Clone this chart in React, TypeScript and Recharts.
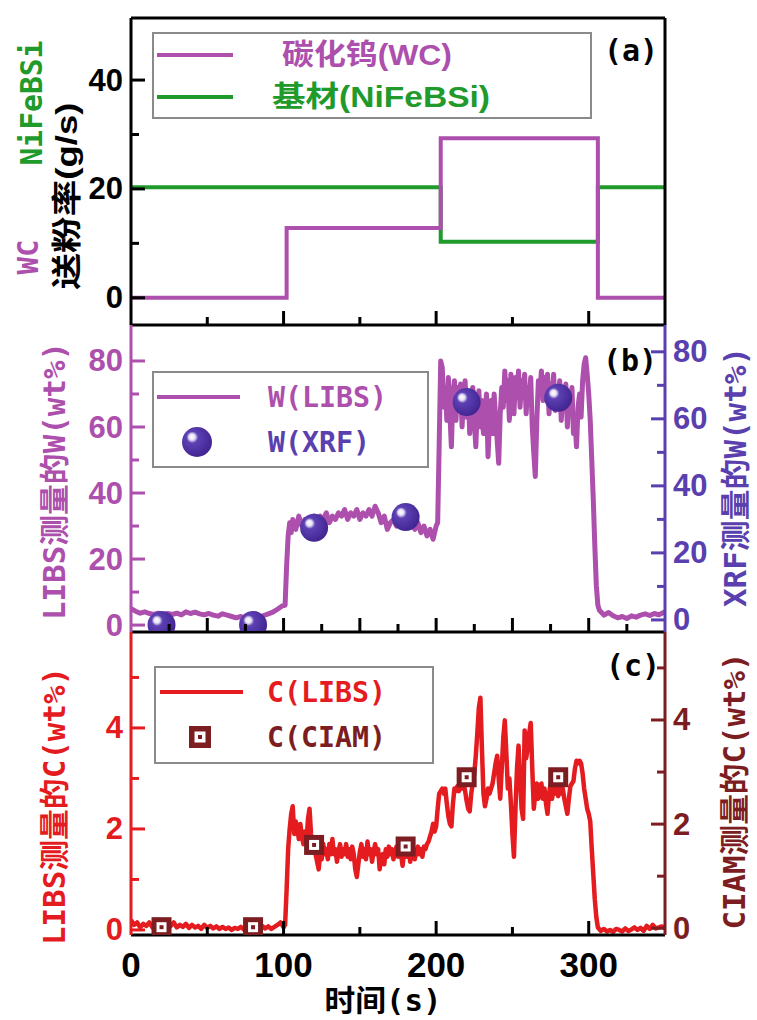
import React from 'react';
import { ComposedChart, Line, Scatter, XAxis, YAxis } from 'recharts';

// ---------- data ----------
// (a) powder feed rate (g/s)
const feedTime = [0, 102, 203, 306, 350];
const feedWC = [0, 12.8, 29.3, 0, 0];
const feedNiFeBSi = [20.3, 20.3, 10.3, 20.3, 20.3];

// (b) W content (wt%) measured by LIBS [time, value]
const wLibs: [number, number][] = [
  [0, 5], [3, 4.2], [6, 3.6], [9, 4], [12, 3.5], [15, 3.2], [18, 3.6], [21, 3.1], [24, 3.5], [27, 3.2],
  [30, 3.6], [33, 3.1], [36, 4], [39, 3.5], [42, 3.9], [45, 3.4], [48, 3.1], [51, 3.5], [54, 3], [57, 2.7],
  [60, 3.4], [63, 3], [66, 2.6], [69, 2.2], [72, 2.6], [75, 2.1], [78, 2.2], [81, 2.5], [84, 2.1], [87, 2.9],
  [90, 3.4], [93, 3.9], [96, 4.8], [99, 5.8],
  [101, 6], [102, 18], [103, 27], [104, 31], [105, 28], [106, 32], [108, 29], [110, 33], [112, 30], [114, 32],
  [116, 29], [118, 31], [120, 33], [122, 31], [124, 33], [126, 32], [128, 34], [130, 31], [132, 33], [134, 32],
  [136, 34], [138, 33], [140, 35], [142, 32], [144, 34], [146, 33], [148, 35], [150, 32], [152, 34], [154, 33],
  [156, 35], [158, 33], [160, 36], [162, 34], [164, 31], [166, 33], [168, 29], [170, 31], [172, 32], [174, 30],
  [176, 33], [178, 31], [180, 33], [182, 31], [184, 32], [186, 29], [188, 31], [190, 28], [192, 30], [194, 27],
  [196, 29], [198, 26], [200, 30], [201, 31],
  [202, 55], [203, 80], [204, 78], [205, 66], [206, 72], [207, 62], [208, 75], [209, 64], [210, 54], [211, 70],
  [212, 74], [213, 62], [214, 72], [215, 66], [216, 73], [217, 60], [218, 70], [219, 74], [220, 63], [221, 71],
  [222, 58], [223, 68], [224, 72], [225, 62], [226, 54], [227, 66], [228, 71], [229, 60], [230, 68], [231, 58],
  [232, 64], [233, 70], [234, 51], [235, 62], [236, 68], [237, 58], [238, 70], [239, 63], [240, 56], [241, 49],
  [242, 64], [243, 72], [244, 66], [245, 77], [246, 68], [247, 74], [248, 62], [249, 76], [250, 70], [251, 64],
  [252, 75], [253, 69], [254, 77], [255, 66], [256, 74], [257, 70], [258, 76], [259, 64], [260, 72], [261, 68],
  [262, 75], [263, 60], [264, 52], [265, 45], [266, 62], [267, 74], [268, 70], [269, 77], [270, 68], [271, 75],
  [272, 71], [273, 76], [274, 64], [275, 73], [276, 69], [277, 76], [278, 65], [279, 72], [280, 68], [281, 74],
  [282, 62], [283, 70], [284, 66], [285, 73], [286, 60], [287, 69], [288, 64], [289, 72], [290, 58], [291, 62],
  [292, 54], [293, 66], [294, 70], [295, 63], [296, 74], [297, 79], [298, 81], [299, 76], [300, 70], [301, 62],
  [302, 50], [303, 38], [304, 24], [305, 12], [306, 6], [307, 4.5],
  [310, 3], [313, 3.8], [316, 2.8], [319, 2.2], [322, 2.6], [325, 2], [328, 2.8], [331, 2.4], [334, 3],
  [337, 3.4], [340, 2.9], [343, 3.5], [346, 3.1], [349, 3.8], [350, 4],
];

// (b) W content (wt%) measured by XRF
const wXrf: [number, number][] = [[20, -1.5], [80, -1.5], [120, 27.5], [180, 30.7], [220, 65], [280, 66.3]];

// (c) C content (wt%) measured by LIBS
const cLibs: [number, number][] = [
  [0, 0.2], [2, 0.1], [4, 0.15], [6, 0.05], [8, 0.12], [10, 0.08], [12, 0.15], [14, 0.05], [16, 0.1], [18, 0.2],
  [20, 0.1], [22, 0.05], [24, 0.12], [26, 0.08], [28, 0.15], [30, 0.05], [32, 0.1], [34, 0.06], [36, 0.12], [38, 0.04],
  [40, 0.1], [42, 0.05], [44, 0.08], [46, 0.02], [48, 0.1], [50, 0.04], [52, 0.08], [54, 0.03], [56, 0.07], [58, 0.02],
  [60, 0.06], [62, 0.02], [64, 0.05], [66, 0], [68, 0.04], [70, 0.02], [72, 0.06], [74, 0.01], [76, 0.05], [78, 0.02],
  [80, 0.06], [82, 0.02], [84, 0.05], [86, 0.08], [88, 0.03], [90, 0.07], [92, 0.02], [94, 0.06], [96, 0.1], [98, 0.15],
  [100, 0.05], [101, 0.1], [102, 0.8], [103, 1.6], [104, 2.0], [105, 2.3], [106, 2.45], [107, 1.9], [108, 2.15], [109, 2.0],
  [110, 1.8], [111, 2.1], [112, 1.85], [113, 1.7], [114, 1.95], [115, 1.75], [116, 2.2], [117, 2.4], [118, 1.9], [119, 1.6],
  [120, 1.7], [121, 1.5], [122, 1.35], [123, 1.2], [124, 1.5], [125, 1.4], [126, 1.7], [127, 1.5], [128, 1.6], [129, 1.4],
  [130, 1.7], [131, 1.5], [132, 1.8], [133, 1.5], [134, 1.6], [135, 1.35], [136, 1.55], [137, 1.7], [138, 1.45], [139, 1.6],
  [140, 1.5], [141, 1.7], [142, 1.45], [143, 1.6], [144, 1.4], [145, 1.65], [146, 1.5], [147, 1.2], [148, 1.05], [149, 1.3],
  [150, 1.55], [151, 1.7], [152, 1.45], [153, 1.6], [154, 1.4], [155, 1.75], [156, 1.5], [157, 1.6], [158, 1.35], [159, 1.55],
  [160, 1.7], [161, 1.5], [162, 1.6], [163, 1.2], [164, 1.45], [165, 1.5], [166, 1.3], [167, 1.6], [168, 1.45], [169, 1.65],
  [170, 1.5], [171, 1.6], [172, 1.4], [173, 1.55], [174, 1.65], [175, 1.45], [176, 1.6], [177, 1.5], [178, 1.27], [179, 1.55],
  [180, 1.6], [181, 1.45], [182, 1.65], [183, 1.35], [184, 1.5], [185, 1.6], [186, 1.4], [187, 1.55], [188, 1.65], [189, 1.5],
  [190, 1.6], [191, 1.45], [192, 1.65], [193, 1.6], [194, 1.7], [195, 1.75], [196, 1.85], [197, 1.95], [198, 2.1], [199, 1.95],
  [200, 2.05], [201, 2.4], [202, 2.7], [203, 2.75], [204, 2.8], [205, 2.7], [206, 2.8], [207, 2.5], [208, 2.25], [209, 2.1],
  [210, 2.05], [211, 2.5], [212, 2.8], [213, 2.75], [214, 2.85], [215, 2.75], [216, 2.9], [217, 2.8], [218, 2.9], [219, 2.75],
  [220, 2.55], [221, 2.4], [222, 2.35], [223, 2.7], [224, 2.9], [225, 3.1], [226, 3.45], [227, 3.9], [228, 4.4], [229, 4.6],
  [230, 3.6], [231, 2.7], [232, 2.45], [233, 2.6], [234, 2.8], [235, 2.7], [236, 2.8], [237, 2.9], [238, 3.1], [239, 3.3],
  [240, 3.45], [241, 3.0], [242, 2.6], [243, 3.2], [244, 3.8], [245, 4.15], [246, 3.5], [247, 2.8], [248, 3.0], [249, 2.5],
  [250, 1.9], [251, 1.45], [252, 2.4], [253, 3.2], [254, 3.65], [255, 3.0], [256, 2.4], [257, 2.2], [258, 3.95], [259, 3.4],
  [260, 3.6], [261, 3.9], [262, 4.1], [263, 3.2], [264, 2.4], [265, 2.7], [266, 2.9], [267, 2.6], [268, 2.8], [269, 2.9],
  [270, 2.6], [271, 2.8], [272, 2.5], [273, 2.3], [274, 2.7], [275, 2.9], [276, 2.6], [277, 2.85], [278, 2.7], [279, 2.8],
  [280, 2.65], [281, 2.9], [282, 2.7], [283, 2.8], [284, 2.6], [285, 2.45], [286, 2.3], [287, 2.6], [288, 2.85], [289, 2.9],
  [290, 2.95], [291, 3.2], [292, 3.35], [293, 3.3], [294, 3.35], [295, 3.3], [296, 3.1], [297, 2.8], [298, 2.6], [299, 2.4],
  [300, 2.3], [301, 2.15], [302, 1.6], [303, 1.1], [304, 0.6], [305, 0.25], [306, 0.05], [308, -0.02], [310, 0.02], [312, -0.03],
  [314, 0], [316, -0.04], [318, 0.02], [320, 0], [322, -0.03], [324, 0.03], [326, -0.02], [328, 0.01], [330, 0.05], [332, 0],
  [334, 0.04], [336, -0.02], [338, 0.08], [340, 0.02], [342, 0.1], [344, 0.03], [346, 0.05], [348, 0.07], [350, 0.04],
];

// (c) C content (wt%) measured by CIAM
const cCiam: [number, number][] = [[20, 0.02], [80, 0.02], [120, 1.6], [180, 1.57], [220, 2.9], [280, 2.9]];

// ticks
const timeTicks50 = [0, 50, 100, 150, 200, 250, 300];
const timeTicks25 = [0, 25, 50, 75, 100, 125, 150, 175, 200, 225, 250, 275, 300, 325];
const feedTicks = [0, 10, 20, 30, 40];
const feedLabels = [0, 20, 40];
const wTicks = [0, 10, 20, 30, 40, 50, 60, 70, 80];
const wLabels = [0, 20, 40, 60, 80];
const cTicks = [0, 1, 2, 3, 4, 5];
const cLabels = [0, 2, 4];

// ---------- styles ----------
const FONT_NUM = "'Liberation Sans', Arial, sans-serif";
const FONT_MONO = "'DejaVu Sans Mono', 'Noto Sans CJK SC', monospace";
const FONT_CJK = "'Liberation Sans', 'Noto Sans CJK SC', sans-serif";
const C_PURPLE = '#ad4fad';
const C_GREEN = '#1f9a2b';
const C_BLUE = '#5a3fae';
const C_RED = '#e41b1f';
const C_DRED = '#7c1d22';
const W = 757;

const feedData = feedTime.map((t, i) => ({ t, wc: feedWC[i], nife: feedNiFeBSi[i] }));
const toPts = (arr: [number, number][]) => arr.map(([t, v]) => ({ t, v }));

const makeYTick = (side: 'left' | 'right', labels: number[], color: string) => (props: any) => {
  const { x, y, payload } = props;
  const v = payload.value;
  const major = labels.includes(v);
  const dir = side === 'left' ? 1 : -1;
  const len = major ? 14 : 8;
  return (
    <g>
      <line x1={x} y1={y} x2={x + dir * len} y2={y} stroke={color} strokeWidth={3} />
      {major && (
        <text x={x - dir * 8} y={y} dominantBaseline="central" textAnchor={side === 'left' ? 'end' : 'start'}
          fill={color} fontSize={31} fontWeight="bold" fontFamily={FONT_NUM}>{v}</text>
      )}
    </g>
  );
};

const makeXTick = (majorEvery: number, withLabels: boolean) => (props: any) => {
  const { x, y, payload } = props;
  const v = payload.value;
  const major = v % majorEvery === 0;
  const len = major ? 14 : 8;
  return (
    <g>
      {v !== 0 && <line x1={x} y1={y} x2={x} y2={y - len} stroke="#000" strokeWidth={3} />}
      {withLabels && v % 100 === 0 && (
        <text x={x} y={y + 42} textAnchor="middle" fill="#000" fontSize={35} fontWeight="bold" fontFamily={FONT_NUM}>{v}</text>
      )}
    </g>
  );
};

const XrfDot = (props: any) => {
  const { cx, cy, index } = props;
  const clipId = `xrf-clip-${index}`;
  const gradId = `xrf-grad-${index}`;
  return (
    <g clipPath={`url(#${clipId})`}>
      <defs>
        <clipPath id={clipId}><rect x={0} y={0} width={W} height={306} /></clipPath>
        <radialGradient id={gradId} cx="0.4" cy="0.4" r="0.65" fx="0.32" fy="0.32">
          <stop offset="0%" stopColor="#ffffff" />
          <stop offset="16%" stopColor="#e6e0f5" />
          <stop offset="30%" stopColor="#5d41b4" />
          <stop offset="100%" stopColor="#40238f" />
        </radialGradient>
      </defs>
      <circle cx={cx} cy={cy} r={14} fill={`url(#${gradId})`} />
    </g>
  );
};

const CiamSquare = (props: any) => {
  const { cx, cy } = props;
  return (
    <g>
      <rect x={cx - 10} y={cy - 10} width={20} height={20} fill={C_DRED} />
      <rect x={cx - 5} y={cy - 5} width={10} height={10} fill="#fff" />
      <rect x={cx - 2} y={cy - 2} width={4} height={4} fill={C_DRED} />
    </g>
  );
};

const rotText = (x: number, y: number, txt: string, color: string, len: number, family = FONT_MONO, size = 30) => (
  <text transform={`translate(${x},${y}) rotate(-90)`} textAnchor="middle" dominantBaseline="central"
    fill={color} fontSize={size} fontWeight="bold" fontFamily={family} textLength={len} lengthAdjust="spacingAndGlyphs">{txt}</text>
);

export default function App() {
  return (
    <div style={{ position: 'absolute', left: 0, top: 0, width: W, height: 1020, background: '#fff', overflow: 'hidden' }}>
      {/* (a) */}
      <div style={{ position: 'absolute', left: 0, top: 0 }}>
        <ComposedChart width={W} height={330} margin={{ top: 17, right: 0, bottom: 4, left: 0 }}>
          <XAxis xAxisId="b" dataKey="t" type="number" domain={[0, 350]} ticks={timeTicks50} interval={0}
            height={1} tickSize={0} tickMargin={0} tickLine={false} tick={makeXTick(100, false)}
            axisLine={{ stroke: '#000', strokeWidth: 3 }} allowDataOverflow />
          <XAxis xAxisId="top" orientation="top" type="number" domain={[0, 350]} height={1} tick={false} tickLine={false}
            axisLine={{ stroke: '#000', strokeWidth: 3 }} />
          <YAxis yAxisId="L" type="number" domain={[-5, 51.4]} ticks={feedTicks} interval={0} width={131}
            tickSize={0} tickMargin={0} tickLine={false} tick={makeYTick('left', feedLabels, '#000')}
            axisLine={{ stroke: '#000', strokeWidth: 3 }} allowDataOverflow />
          <YAxis yAxisId="R" orientation="right" type="number" domain={[0, 1]} width={92} tick={false} tickLine={false}
            axisLine={{ stroke: '#000', strokeWidth: 3 }} />
          <Line xAxisId="b" yAxisId="L" data={feedData} dataKey="nife" type="stepAfter" stroke={C_GREEN} strokeWidth={4}
            dot={false} isAnimationActive={false} />
          <Line xAxisId="b" yAxisId="L" data={feedData} dataKey="wc" type="stepAfter" stroke={C_PURPLE} strokeWidth={4}
            dot={false} isAnimationActive={false} />
        </ComposedChart>
      </div>

      {/* (b) */}
      <div style={{ position: 'absolute', left: 0, top: 325 }}>
        <ComposedChart width={W} height={320} margin={{ top: 0, right: 0, bottom: 12, left: 0 }}>
          <XAxis xAxisId="b" dataKey="t" type="number" domain={[0, 350]} ticks={timeTicks25} interval={0}
            height={1} tickSize={0} tickMargin={0} tickLine={false} tick={makeXTick(50, false)}
            axisLine={{ stroke: '#000', strokeWidth: 3 }} allowDataOverflow />
          <YAxis yAxisId="L" type="number" domain={[-2.1, 90.9]} ticks={wTicks} interval={0} width={131}
            tickSize={0} tickMargin={0} tickLine={false} tick={makeYTick('left', wLabels, C_PURPLE)}
            axisLine={{ stroke: C_PURPLE, strokeWidth: 3 }} allowDataOverflow />
          <YAxis yAxisId="R" orientation="right" type="number" domain={[-3.6, 88]} ticks={wTicks} interval={0} width={92}
            tickSize={0} tickMargin={0} tickLine={false} tick={makeYTick('right', wLabels, C_BLUE)}
            axisLine={{ stroke: C_BLUE, strokeWidth: 3 }} allowDataOverflow />
          <Line xAxisId="b" yAxisId="L" data={toPts(wLibs)} dataKey="v" type="linear" stroke={C_PURPLE} strokeWidth={5}
            strokeLinejoin="round" dot={false} isAnimationActive={false} />
          <Scatter xAxisId="b" yAxisId="R" data={toPts(wXrf)} dataKey="v" shape={XrfDot} isAnimationActive={false} />
        </ComposedChart>
      </div>

      {/* (c) */}
      <div style={{ position: 'absolute', left: 0, top: 632 }}>
        <ComposedChart width={W} height={388} margin={{ top: 0, right: 0, bottom: 0, left: 0 }}>
          <XAxis xAxisId="b" dataKey="t" type="number" domain={[0, 350]} ticks={timeTicks50} interval={0}
            height={85} tickSize={0} tickMargin={0} tickLine={false} tick={makeXTick(100, true)}
            axisLine={{ stroke: '#000', strokeWidth: 3 }} allowDataOverflow />
          <YAxis yAxisId="L" type="number" domain={[-0.1, 5.9]} ticks={cTicks} interval={0} width={131}
            tickSize={0} tickMargin={0} tickLine={false} tick={makeYTick('left', cLabels, C_RED)}
            axisLine={{ stroke: C_RED, strokeWidth: 3 }} allowDataOverflow />
          <YAxis yAxisId="R" orientation="right" type="number" domain={[-0.13, 5.69]} ticks={cTicks} interval={0} width={92}
            tickSize={0} tickMargin={0} tickLine={false} tick={makeYTick('right', cLabels, C_DRED)}
            axisLine={{ stroke: C_DRED, strokeWidth: 3 }} allowDataOverflow />
          <Line xAxisId="b" yAxisId="L" data={toPts(cLibs)} dataKey="v" type="linear" stroke={C_RED} strokeWidth={4.5}
            strokeLinejoin="round" dot={false} isAnimationActive={false} />
          <Scatter xAxisId="b" yAxisId="R" data={toPts(cCiam)} dataKey="v" shape={CiamSquare} isAnimationActive={false} />
        </ComposedChart>
      </div>

      {/* titles, legends, panel labels */}
      <svg width={W} height={1020} style={{ position: 'absolute', left: 0, top: 0, pointerEvents: 'none' }}>
        {/* (a) legend */}
        <rect x={153} y={33} width={438} height={85} fill="#fff" stroke="#8a8a8a" strokeWidth={2} />
        <line x1={157} y1={55} x2={233} y2={55} stroke={C_PURPLE} strokeWidth={4} />
        <line x1={157} y1={97} x2={233} y2={97} stroke={C_GREEN} strokeWidth={4} />
        <text x={282} y={55} dominantBaseline="central" fill={C_PURPLE} fontSize={29} fontWeight="bold" fontFamily={FONT_CJK}
          textLength={170} lengthAdjust="spacingAndGlyphs">碳化钨(WC)</text>
        <text x={272} y={97} dominantBaseline="central" fill={C_GREEN} fontSize={29} fontWeight="bold" fontFamily={FONT_CJK}
          textLength={218} lengthAdjust="spacingAndGlyphs">基材(NiFeBSi)</text>
        <text x={631} y={50} textAnchor="middle" dominantBaseline="central" fill="#000" fontSize={30} fontWeight="bold"
          fontFamily={FONT_MONO}>(a)</text>

        {/* (b) legend */}
        <rect x={153} y={372} width={275} height={95} fill="#fff" stroke="#8a8a8a" strokeWidth={2} />
        <line x1={157} y1={397} x2={240} y2={397} stroke={C_PURPLE} strokeWidth={4} />
        <XrfLegendDot cx={197} cy={442} />
        <text x={268} y={397} dominantBaseline="central" fill={C_PURPLE} fontSize={28} fontWeight="bold" fontFamily={FONT_MONO}
          textLength={119} lengthAdjust="spacingAndGlyphs">W(LIBS)</text>
        <text x={268} y={442} dominantBaseline="central" fill={C_BLUE} fontSize={28} fontWeight="bold" fontFamily={FONT_MONO}
          textLength={102} lengthAdjust="spacingAndGlyphs">W(XRF)</text>
        <text x={630} y={360} textAnchor="middle" dominantBaseline="central" fill="#000" fontSize={30} fontWeight="bold"
          fontFamily={FONT_MONO}>(b)</text>

        {/* (c) legend */}
        <rect x={155} y={667} width={278} height={96} fill="#fff" stroke="#8a8a8a" strokeWidth={2} />
        <line x1={160} y1={692} x2={243} y2={692} stroke={C_RED} strokeWidth={4} />
        <rect x={189} y={726} width={22} height={22} fill={C_DRED} />
        <rect x={194.5} y={731.5} width={11} height={11} fill="#fff" />
        <rect x={198} y={735} width={4} height={4} fill={C_DRED} />
        <text x={267} y={692} dominantBaseline="central" fill={C_RED} fontSize={28} fontWeight="bold" fontFamily={FONT_MONO}
          textLength={119} lengthAdjust="spacingAndGlyphs">C(LIBS)</text>
        <text x={267} y={737} dominantBaseline="central" fill={C_DRED} fontSize={28} fontWeight="bold" fontFamily={FONT_MONO}
          textLength={119} lengthAdjust="spacingAndGlyphs">C(CIAM)</text>
        <text x={633} y={665} textAnchor="middle" dominantBaseline="central" fill="#000" fontSize={30} fontWeight="bold"
          fontFamily={FONT_MONO}>(c)</text>

        {/* axis titles */}
        {rotText(28, 257, 'WC', C_PURPLE, 35, FONT_MONO, 28)}
        {rotText(31, 103, 'NiFeBSi', C_GREEN, 125, FONT_MONO, 30)}
        {rotText(66, 196, '送粉率(g/s)', '#000', 187, FONT_CJK, 30)}
        {rotText(54, 481, 'LIBS测量的W(wt%)', C_PURPLE, 278)}
        {rotText(735, 477, 'XRF测量的W(wt%)', C_BLUE, 260)}
        {rotText(54, 806, 'LIBS测量的C(wt%)', C_RED, 278)}
        {rotText(734, 791, 'CIAM测量的C(wt%)', C_DRED, 277)}
        <text x={383} y={1000} textAnchor="middle" dominantBaseline="central" fill="#000" fontSize={30} fontWeight="bold"
          fontFamily={FONT_MONO} textLength={117} lengthAdjust="spacingAndGlyphs">时间(s)</text>
      </svg>
    </div>
  );
}

function XrfLegendDot({ cx, cy }: { cx: number; cy: number }) {
  return (
    <g>
      <defs>
        <radialGradient id="xrf-legend-grad" cx="0.4" cy="0.4" r="0.65" fx="0.32" fy="0.32">
          <stop offset="0%" stopColor="#ffffff" />
          <stop offset="16%" stopColor="#e6e0f5" />
          <stop offset="30%" stopColor="#5d41b4" />
          <stop offset="100%" stopColor="#40238f" />
        </radialGradient>
      </defs>
      <circle cx={cx} cy={cy} r={15} fill="url(#xrf-legend-grad)" />
    </g>
  );
}
